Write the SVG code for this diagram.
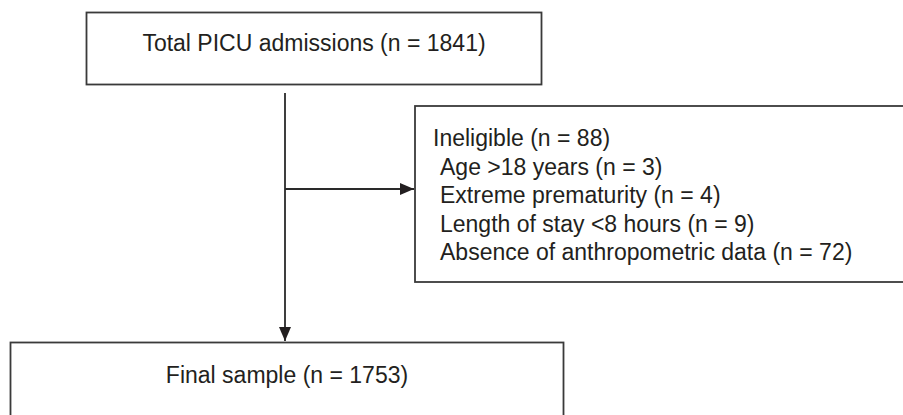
<svg xmlns="http://www.w3.org/2000/svg" width="903" height="415" viewBox="0 0 903 415">
<style>
.box{fill:#ffffff;stroke:#3a3a3a;stroke-width:1.8}
.t{font-family:"Liberation Sans",Arial,sans-serif;font-size:23px;fill:#231f20}
.c{text-anchor:middle}
.ln{stroke:#2a2a2a;stroke-width:1.8;fill:none}
</style>
<defs>
<marker id="ah" markerUnits="userSpaceOnUse" markerWidth="14" markerHeight="14" refX="14" refY="7" orient="auto">
<path d="M0,1 L14,7 L0,13 Z" fill="#231f20"/>
</marker>
</defs>
<rect width="903" height="415" fill="#ffffff"/>
<g id="connectors">
<line class="ln" x1="285" y1="93" x2="285" y2="341" marker-end="url(#ah)"/>
<line class="ln" x1="285" y1="189" x2="414" y2="189" marker-end="url(#ah)"/>
</g>
<g id="total">
<rect class="box" x="86.5" y="12.5" width="455" height="72"/>
<text class="t c" x="314" y="51">Total PICU admissions (n = 1841)</text>
</g>
<g id="ineligible">
<rect class="box" x="415" y="106" width="520" height="176"/>
<text class="t" x="433" y="146">Ineligible (n = 88)</text>
<text class="t" x="440" y="174.5">Age &gt;18 years (n = 3)</text>
<text class="t" x="440" y="203">Extreme prematurity (n = 4)</text>
<text class="t" x="440" y="231.5">Length of stay &lt;8 hours (n = 9)</text>
<text class="t" x="440" y="260">Absence of anthropometric data (n = 72)</text>
</g>
<g id="final">
<rect class="box" x="10.5" y="342.5" width="553" height="100"/>
<text class="t c" x="287" y="383">Final sample (n = 1753)</text>
</g>
</svg>
